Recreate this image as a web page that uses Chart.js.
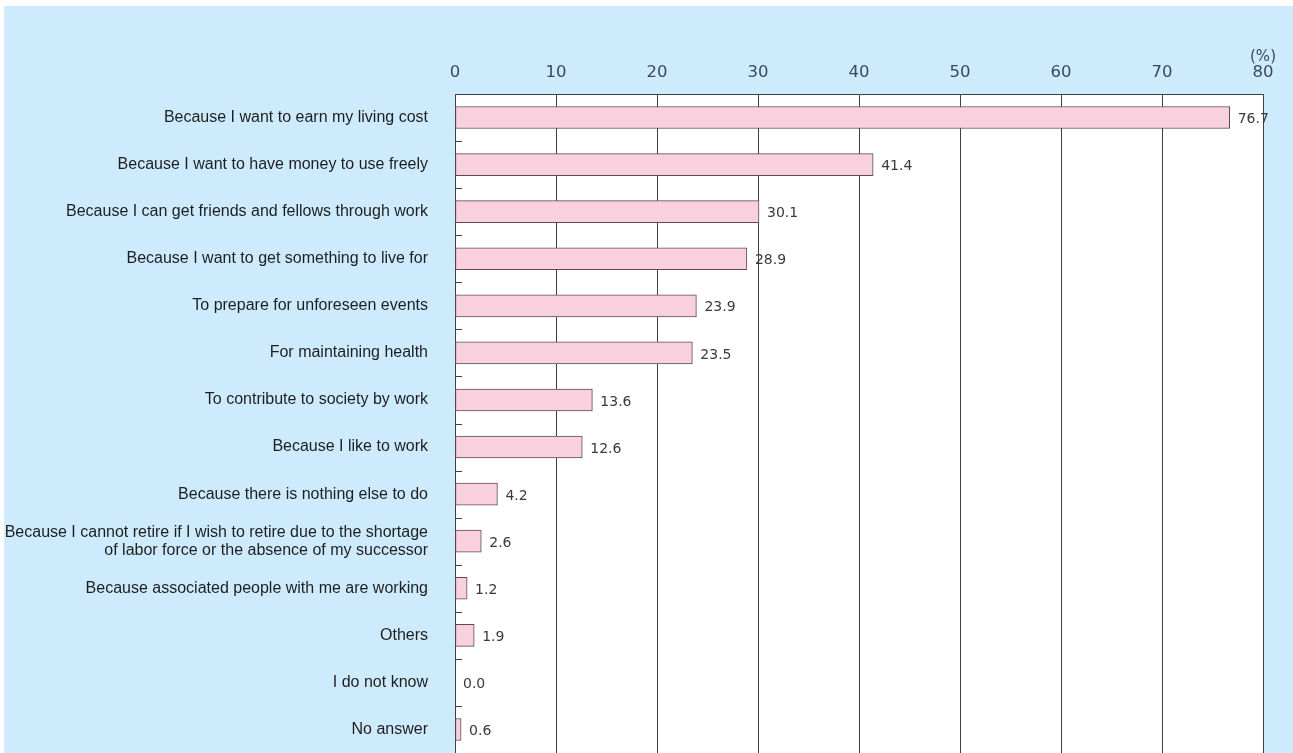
<!DOCTYPE html>
<html>
<head>
<meta charset="utf-8">
<script src="https://cdn.jsdelivr.net/npm/chart.js@4/dist/chart.umd.min.js"></script>
<style>
  html, body { margin: 0; padding: 0; background: #ffffff; overflow: hidden; }
  #wrap { position: absolute; left: 0; top: 0; width: 1293px; height: 753px; }
</style>
</head>
<body>
<div id="wrap"><canvas id="c" width="1293" height="753"></canvas></div>
<script>
// Reasons for working (multiple answers, %)
const categories = [
  "Because I want to earn my living cost",
  "Because I want to have money to use freely",
  "Because I can get friends and fellows through work",
  "Because I want to get something to live for",
  "To prepare for unforeseen events",
  "For maintaining health",
  "To contribute to society by work",
  "Because I like to work",
  "Because there is nothing else to do",
  ["Because I cannot retire if I wish to retire due to the shortage", "of labor force or the absence of my successor"],
  "Because associated people with me are working",
  "Others",
  "I do not know",
  "No answer"
];
const values = [76.7, 41.4, 30.1, 28.9, 23.9, 23.5, 13.6, 12.6, 4.2, 2.6, 1.2, 1.9, 0.0, 0.6];
const xTicks = [0, 10, 20, 30, 40, 50, 60, 70, 80];
const unitLabel = "(%)";

const BG = "#cdebfd";
const LINE = "#404040";

// Light-blue panel behind everything, white plot area
const backdrop = {
  id: "backdrop",
  beforeDraw(chart) {
    const { ctx, chartArea: a } = chart;
    ctx.save();
    ctx.fillStyle = BG;
    ctx.fillRect(4, 6, chart.width - 4, chart.height - 6);
    ctx.fillStyle = "#ffffff";
    ctx.fillRect(a.left, a.top, a.right - a.left, a.bottom - a.top);
    ctx.restore();
  }
};

// Short inward ticks on the category axis between rows, value labels and unit
const extras = {
  id: "extras",
  afterDatasetsDraw(chart) {
    const { ctx, chartArea: a } = chart;
    const y = chart.scales.y;
    ctx.save();
    ctx.strokeStyle = LINE;
    ctx.lineWidth = 1;
    for (let i = 1; i < categories.length; i++) {
      const py = Math.round((y.getPixelForValue(i - 1) + y.getPixelForValue(i)) / 2) + 0.5;
      ctx.beginPath();
      ctx.moveTo(a.left, py);
      ctx.lineTo(a.left + 7, py);
      ctx.stroke();
    }
    const meta = chart.getDatasetMeta(0);
    ctx.fillStyle = "#3a3a3a";
    ctx.font = "14px 'DejaVu Sans', sans-serif";
    ctx.textAlign = "left";
    ctx.textBaseline = "middle";
    meta.data.forEach((bar, i) => {
      ctx.fillText(values[i].toFixed(1), bar.x + 8, bar.y + 2);
    });
    const x = chart.scales.x;
    ctx.fillStyle = "#3b4a57";
    ctx.font = "15px 'DejaVu Sans', sans-serif";
    ctx.textAlign = "center";
    ctx.fillText(unitLabel, x.getPixelForValue(xTicks[xTicks.length - 1]), 57);
    ctx.restore();
  }
};

new Chart(document.getElementById("c"), {
  type: "bar",
  data: {
    labels: categories,
    datasets: [{
      data: values,
      backgroundColor: "#f9d1de",
      borderColor: "#5e4a52",
      borderWidth: 1,
      borderSkipped: false,
      barThickness: 22
    }]
  },
  options: {
    indexAxis: "y",
    responsive: false,
    animation: false,
    events: [],
    layout: { padding: { left: 0, right: 30, top: 0, bottom: 0 } },
    plugins: { legend: { display: false }, tooltip: { enabled: false } },
    scales: {
      x: {
        position: "top",
        min: 0,
        max: 80,
        afterFit(s) { s.height = 94; },
        afterBuildTicks(s) { s.ticks = xTicks.map(v => ({ value: v })); },
        ticks: {
          padding: 11,
          color: "#3b4a57",
          font: { family: "'DejaVu Sans', sans-serif", size: 16.5 },
          maxRotation: 0
        },
        grid: { color: LINE, lineWidth: 1, drawTicks: false },
        border: { display: true, color: LINE, width: 1 }
      },
      y: {
        afterFit(s) { s.width = 455; s.paddingTop = 0; s.paddingBottom = 0; },
        ticks: {
          padding: 27,
          color: "#1e1e1e",
          font: { family: "'Liberation Sans', Arial, sans-serif", size: 16, lineHeight: 1.125 }
        },
        grid: { display: false, drawTicks: false },
        border: { display: true, color: LINE, width: 1 }
      }
    }
  },
  plugins: [backdrop, extras]
});
</script>
</body>
</html>
